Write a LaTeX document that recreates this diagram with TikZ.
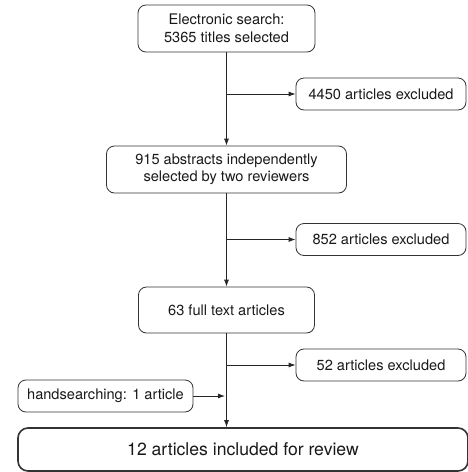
\documentclass[tikz,border=0pt]{standalone}
\usepackage{fontspec}
\setmainfont{TeX Gyre Heros}
\usepackage{xcolor}
\usetikzlibrary{positioning, calc, arrows.meta}

\tikzset{
  flowbox/.style={draw=black!80, line width=0.8pt, rounded corners=8pt, inner sep=0pt,
    align=center, text=black!90, font=\fontsize{14.6}{17.5}\selectfont},
  sidebox/.style={flowbox, minimum width=170pt, minimum height=32pt},
  flowarrow/.style={draw=black!85, line width=0.8pt, -{Latex[length=7pt, width=5pt]}}
}

\begin{document}
\begin{tikzpicture}[x=1pt, y=-1pt]
      \useasboundingbox (0,0) rectangle (467,472);
      % main column
      \node[flowbox, minimum width=177pt, minimum height=47pt] (search) at (226.5,28.5)
        {Electronic search:\\5365 titles selected};
      \node[flowbox, minimum width=240pt, minimum height=47pt] (abstracts) at (226.5,169.5)
        {915 abstracts independently\\selected by two reviewers};
      \node[flowbox, minimum width=176pt, minimum height=46pt] (fulltext) at (226.5,310)
        {63 full text articles};
      \node[flowbox, line width=1.6pt, rounded corners=10pt, minimum width=450pt, minimum height=43pt,
        font=\fontsize{17.6}{20}\selectfont] (included) at (243,449.5) {12 articles included for review};
      \node[flowbox, minimum width=175pt, minimum height=32pt] (hand) at (105.5,396)
        {handsearching: 1 article};
      % excluded boxes and their branches
      \foreach \n/\y/\t in {excl1/94/4450, excl2/239.5/852, excl3/365/52}{
        \node[sidebox] (\n) at (381,\y) {\t\ articles excluded};
      }
      \draw[flowarrow] (search.south) -- (abstracts.north);
      \draw[flowarrow] (abstracts.south) -- (fulltext.north);
      \draw[flowarrow] (fulltext.south) -- (fulltext.south |- included.north);
      \foreach \a/\n in {search/excl1, abstracts/excl2, fulltext/excl3}{
        \draw[flowarrow] (\a.south |- \n.west) -- (\n.west);
      }
      \draw[flowarrow] (hand.east) -- ($(fulltext.south |- hand.east)+(-1.5,0)$);
    \end{tikzpicture}
\end{document}
